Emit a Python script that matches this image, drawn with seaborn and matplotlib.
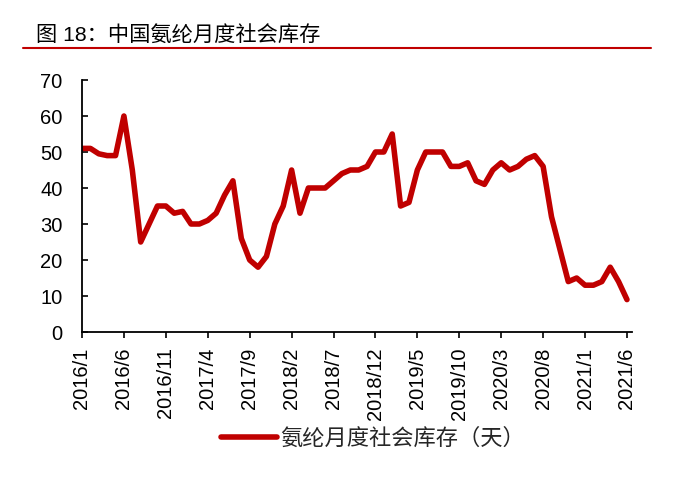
import pandas as pd
import matplotlib
matplotlib.use('Agg')
import matplotlib.pyplot as plt
from matplotlib.lines import Line2D
import seaborn as sns

# Monthly spandex social inventory (days), 2016/1 .. 2021/6
inventory_days = [
    51, 51, 49.5, 49, 49, 60, 45, 25, 30, 35,
    35, 33, 33.5, 30, 30, 31, 33, 38, 42, 26,
    20, 18, 21, 30, 35, 45, 33, 40, 40, 40,
    42, 44, 45, 45, 46, 50, 50, 55, 35, 36,
    45, 50, 50, 50, 46, 46, 47, 42, 41, 45,
    47, 45, 46, 48, 49, 46, 32, 23, 14, 15,
    13, 13, 14, 18, 14, 9,
]
tick_labels = ['2016/1', '2016/6', '2016/11', '2017/4', '2017/9', '2018/2', '2018/7',
               '2018/12', '2019/5', '2019/10', '2020/3', '2020/8', '2021/1', '2021/6']
series_name = '氨纶月度社会库存（天）'
title_text = '图 18：中国氨纶月度社会库存'

df = pd.DataFrame({'month': range(len(inventory_days)), 'days': inventory_days})

sns.set_style('white')
plt.rcParams['font.family'] = ['Liberation Sans', 'Noto Sans CJK SC', 'DejaVu Sans']

RED = '#C00000'

fig = plt.figure(figsize=(6.75, 4.82), dpi=100)
ax = fig.add_axes([82 / 675, 1 - 332 / 482, (632 - 82) / 675, (332 - 80) / 482])

sns.lineplot(data=df, x='month', y='days', ax=ax, color=RED, linewidth=4,
             label=series_name, legend=False)

ax.set_xlim(0, 65.6)
ax.set_ylim(0, 70)
ax.set_yticks(range(0, 71, 10))
ax.set_xticks(range(0, len(inventory_days), 5))
ax.set_xticklabels(tick_labels, rotation=90)
ax.set_xlabel('')
ax.set_ylabel('')
ax.tick_params(axis='y', labelsize=14.5, direction='in', length=4.5, width=1.2,
               pad=14, colors='black', left=True)
ax.tick_params(axis='x', labelsize=14.5, direction='out', length=4, width=1.2,
               pad=7, colors='black', bottom=True)
for side in ['top', 'right']:
    ax.spines[side].set_visible(False)
for side in ['left', 'bottom']:
    ax.spines[side].set_color('black')
    ax.spines[side].set_linewidth(1.3)
ax.grid(False)

# Title and red rule
fig.text(36 / 675, 1 - 35 / 482, title_text, fontsize=15.3, va='center', ha='left',
         color='black')
fig.add_artist(Line2D([23 / 675, 651 / 675], [1 - 48 / 482, 1 - 48 / 482],
                      transform=fig.transFigure, color=RED, linewidth=1.5))

# Legend below the axis
handle = Line2D([], [], color=RED, linewidth=4)
fig.legend([handle], [series_name], loc='center', bbox_to_anchor=(373 / 675, 1 - 439 / 482),
           frameon=False, fontsize=16, handlelength=2.5, handletextpad=0.15)

fig.savefig('out.png', dpi=100)
